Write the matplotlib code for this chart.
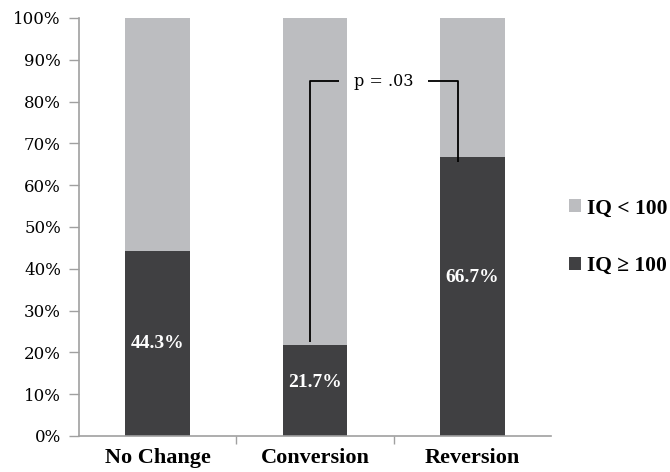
import matplotlib
matplotlib.use("Agg")
import matplotlib.pyplot as plt
from matplotlib.patches import Patch
from matplotlib.ticker import FuncFormatter, FixedLocator

# Share of each group with IQ >= 100 (percent)
categories = ["No Change", "Conversion", "Reversion"]
iq_high = [44.3, 21.7, 66.7]
iq_low = [100 - v for v in iq_high]
series_labels = ["IQ < 100", "IQ \u2265 100"]
y_ticks = [0, 10, 20, 30, 40, 50, 60, 70, 80, 90, 100]
p_text = "p = .03"

light = "#BCBDC0"
dark = "#404042"
axis_grey = "#A0A0A0"

fig = plt.figure(figsize=(6.7, 4.72), dpi=100)
ax = fig.add_axes([0.1179, 0.0763, 0.8224 - 0.1179, 0.9619 - 0.0763])

x = list(range(len(categories)))
width = 0.41
ax.bar(x, iq_high, width, color=dark, zorder=2)
ax.bar(x, iq_low, width, bottom=iq_high, color=light, zorder=2)

# value labels inside the dark segments
label_shift = [0.0, 1.9, 4.5]
for xi, v, s in zip(x, iq_high, label_shift):
    ax.text(xi, v / 2 + s, f"{v:.1f}%", ha="center", va="center",
            color="white", fontsize=14, fontweight="bold",
            family="Liberation Serif", zorder=3)

# significance bracket between Conversion and Reversion
top = 84.9
lx, rx = x[1] - 0.032, x[2] - 0.09
ax.plot([lx, lx, lx + 0.185], [iq_high[1] + 0.8, top, top],
        color="black", lw=1.3, zorder=4, solid_capstyle="butt")
ax.plot([rx - 0.19, rx, rx], [top, top, iq_high[2] - 1.2],
        color="black", lw=1.3, zorder=4, solid_capstyle="butt")
ax.text((lx + rx) / 2 - 0.005, top, p_text, ha="center", va="center",
        fontsize=11.5, family="DejaVu Serif", zorder=4)

ax.set_xlim(-0.5, 2.5)
ax.set_ylim(0, 100)
ax.yaxis.set_major_locator(FixedLocator(y_ticks))
ax.yaxis.set_major_formatter(FuncFormatter(lambda v, p: f"{v:.0f}%"))
ax.set_xticks(x)
ax.set_xticklabels(categories, fontsize=16, fontweight="bold",
                   family="Liberation Serif")
ax.xaxis.set_minor_locator(FixedLocator([0.5, 1.5]))
ax.tick_params(axis="x", which="major", length=0, pad=9)
ax.tick_params(axis="x", which="minor", length=6, color=axis_grey, width=1)
ax.tick_params(axis="y", length=7, color=axis_grey, width=1, pad=6)
for lab in ax.get_yticklabels():
    lab.set_family("DejaVu Serif")
    lab.set_fontsize(12)

for side in ("top", "right"):
    ax.spines[side].set_visible(False)
for side in ("left", "bottom"):
    ax.spines[side].set_color(axis_grey)
    ax.spines[side].set_linewidth(1.2)

handles = [Patch(facecolor=light), Patch(facecolor=dark)]
fig.legend(handles, series_labels, loc="center left",
           bbox_to_anchor=(0.833, 0.497), frameon=False,
           prop={"family": "Liberation Serif", "weight": "bold", "size": 15.5},
           handlelength=0.55, handleheight=0.55, handletextpad=0.3,
           labelspacing=1.75, borderpad=0)

fig.savefig("out.png", dpi=100)
